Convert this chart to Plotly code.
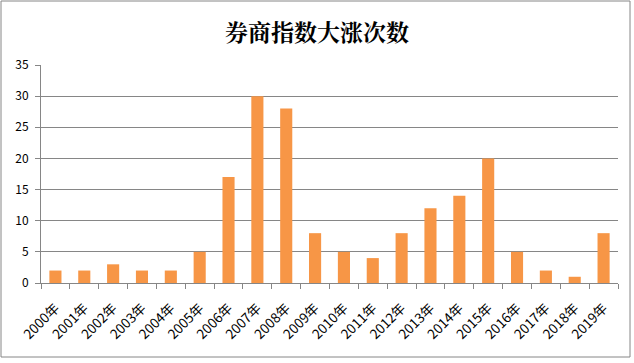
import plotly.graph_objects as go

years = ["2000年", "2001年", "2002年", "2003年", "2004年", "2005年", "2006年", "2007年",
         "2008年", "2009年", "2010年", "2011年", "2012年", "2013年", "2014年", "2015年",
         "2016年", "2017年", "2018年", "2019年"]
counts = [2, 2, 3, 2, 2, 5, 17, 30, 28, 8, 5, 4, 8, 12, 14, 20, 5, 2, 1, 8]
y_ticks = [0, 5, 10, 15, 20, 25, 30, 35]

W, H = 634, 363
L, R, T, B = 41, 16, 65, 80
pw, ph = W - L - R, H - T - B

fig = go.Figure(go.Bar(x=years, y=counts, marker=dict(color="#F79646", line=dict(width=0)),
                       hoverinfo="x+y"))

def px_x(v):
    return (v - L) / pw

def px_y(v):
    return (H - B - v) / ph

fig.update_layout(
    width=W, height=H,
    margin=dict(l=L, r=R, t=T, b=B, autoexpand=False),
    paper_bgcolor="white", plot_bgcolor="white",
    bargap=0.58,
    showlegend=False,
    font=dict(family="Noto Sans CJK SC, DejaVu Sans, sans-serif", size=12, color="black"),
    title=dict(text="<b>券商指数大涨次数</b>", x=0.5, xanchor="center", y=1 - 33 / H, yanchor="middle",
               font=dict(family="Noto Serif CJK SC, Noto Sans CJK SC, serif", size=23, color="black")),
    xaxis=dict(type="category", showline=True, linecolor="#868686", linewidth=1,
               ticks="outside", tickson="boundaries", ticklen=5, tickcolor="#868686",
               tickangle=-45, tickfont=dict(size=13.5), showgrid=False, ticklabelstandoff=11),
    yaxis=dict(range=[0, 35], tickvals=y_ticks, showline=True, linecolor="#868686", linewidth=1,
               ticks="outside", ticklen=5, tickcolor="#868686", showgrid=True,
               gridcolor="#868686", gridwidth=1, zeroline=False, tickfont=dict(size=12),
               ticklabelstandoff=4),
    shapes=[dict(type="rect", xref="paper", yref="paper",
                 x0=px_x(1), x1=px_x(630), y0=px_y(1), y1=px_y(357),
                 line=dict(color="#868686", width=1), fillcolor="rgba(0,0,0,0)", layer="below")],
)

fig.write_html("out.html", config={"displayModeBar": False},
               post_script="document.body.style.margin='0';")
